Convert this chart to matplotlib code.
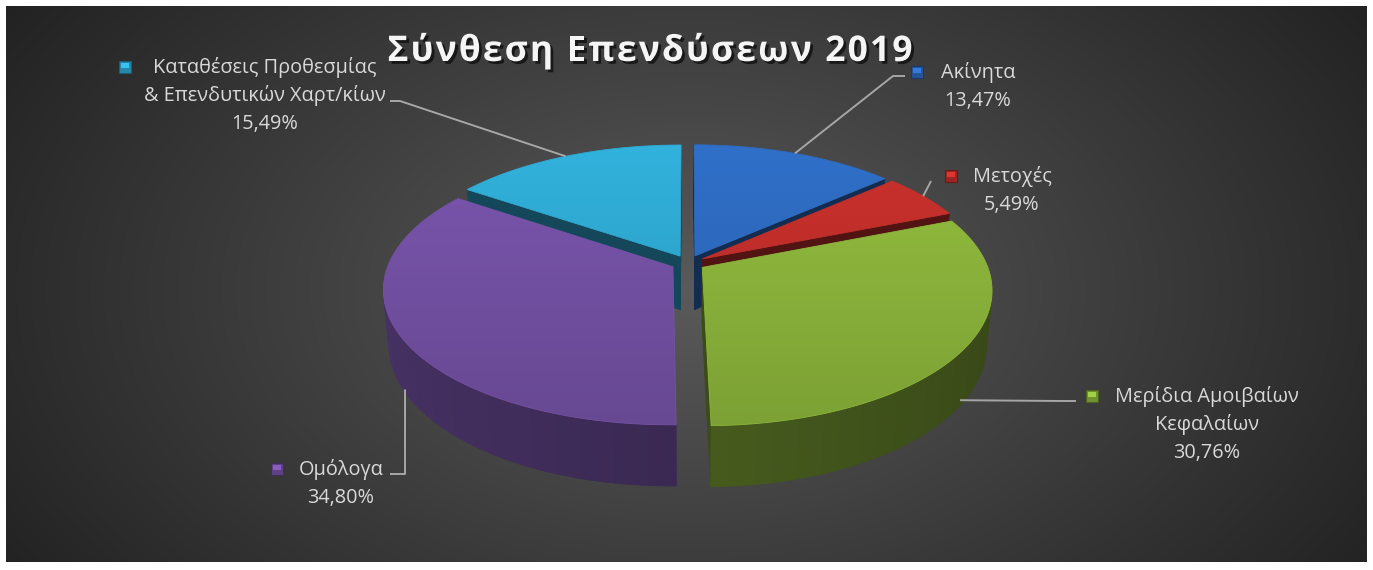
import numpy as np
import matplotlib
matplotlib.use('Agg')
import matplotlib.pyplot as plt
from matplotlib.patches import Polygon, Rectangle
import matplotlib.patheffects as pe
from matplotlib.colors import to_rgb
from matplotlib.font_manager import FontProperties
from matplotlib.textpath import TextToPath

# data
title = 'Σύνθεση Επενδύσεων 2019'
names = ['Ακίνητα', 'Μετοχές', 'Μερίδια Αμοιβαίων\nΚεφαλαίων', 'Ομόλογα',
         'Καταθέσεις Προθεσμίας\n& Επενδυτικών Χαρτ/κίων']
shares = [13.47, 5.49, 30.76, 34.80, 15.49]
colors = ['#2e6bc0', '#c22f2b', '#8db63c', '#7552a6', '#2faad3']

# layout, in pixels of the 1373x570 picture
W, H = 1373, 570
CX, CY = 688, 263       # pie centre on screen
R = 284
PHI = np.radians(27.5)  # tilt of the pie
DIST = 1557             # camera distance (perspective)
DEPTH = 62
EXPLODE = 0.06

label_xy = [(978, 78), (1012, 182), (1207, 402), (341, 475), (265, 73)]
key_gap = [24, 22, 23, 22, 28]
leader_pts = [[(893, 76), (905, 76)],
              [(931, 181)],
              [(1060, 401), (1076, 401)],
              [(405, 474), (390, 474)],
              [(400, 101), (390, 101)]]
anchor_depth = [0, 0, 0.9, 0.95, 0]
TXT = '#d9d9d9'
FONT = 'Open Sans'
LSIZE = 14.3

cphi, sphi = np.cos(PHI), np.sin(PHI)
cam = np.array([0.0, DIST * sphi, -DIST * cphi])


def proj(x, z, y):
    x, z, y = np.asarray(x, float), np.asarray(z, float), np.asarray(y, float)
    v = y * cphi + z * sphi
    d = z * cphi - y * sphi
    s = DIST / (DIST + d)
    return CX + x * s, CY - v * s


def shade(c, k):
    return tuple(np.clip(np.array(to_rgb(c)) * k, 0, 1))


fig = plt.figure(figsize=(W / 100, H / 100), dpi=100, facecolor='white')
ax = fig.add_axes([0, 0, 1, 1])
ax.set_xlim(0, W)
ax.set_ylim(H, 0)
ax.axis('off')

# background radial gradient
px0, py0, px1, py1 = 6, 6, 1367, 562
yy, xx = np.mgrid[py0:py1, px0:px1]
r = np.sqrt(((xx - 690) / 820.0) ** 2 + ((yy - 290) / 520.0) ** 2)
g = (90 - 56 * np.clip(r, 0, 1)) / 255.0
bg = np.dstack([g, g, g])
ax.imshow(bg, extent=(px0, px1, py1, py0), origin='upper', aspect='auto', zorder=0)

# pie geometry
fr = np.array(shares) / sum(shares)
a_end = np.cumsum(fr) * 2 * np.pi
a_start = a_end - fr * 2 * np.pi

faces = []
tops = []
anchors = []
for i in range(len(shares)):
    ts, te = np.pi / 2 - a_start[i], np.pi / 2 - a_end[i]
    tm = (ts + te) / 2
    ox, oz = EXPLODE * R * np.cos(tm), EXPLODE * R * np.sin(tm)

    # outer wall, in small pieces
    n = max(3, int(np.degrees(ts - te) / 1.5))
    th = np.linspace(ts, te, n + 1)
    for t0, t1 in zip(th[:-1], th[1:]):
        tc = (t0 + t1) / 2
        p = np.array([ox + R * np.cos(tc), -DEPTH / 2, oz + R * np.sin(tc)])
        nrm = np.array([np.cos(tc), 0, np.sin(tc)])
        if np.dot(nrm, cam - p) <= 0:
            continue
        xs = ox + R * np.cos([t0, t1, t1, t0])
        zs = oz + R * np.sin([t0, t1, t1, t0])
        X, Y = proj(xs, zs, [0, 0, -DEPTH, -DEPTH])
        k = 0.5 - 0.1 * np.cos(tc)
        faces.append((np.linalg.norm(cam - p), np.column_stack([X, Y]), shade(colors[i], k)))

    # radial walls
    for t, nrm in [(ts, np.array([-np.sin(ts), 0, np.cos(ts)])),
                   (te, np.array([np.sin(te), 0, -np.cos(te)]))]:
        rr = np.linspace(0, R, 9)
        for r0, r1 in zip(rr[:-1], rr[1:]):
            rc = (r0 + r1) / 2
            p = np.array([ox + rc * np.cos(t), -DEPTH / 2, oz + rc * np.sin(t)])
            if np.dot(nrm, cam - p) <= 0:
                continue
            xs = ox + np.array([r0, r1, r1, r0]) * np.cos(t)
            zs = oz + np.array([r0, r1, r1, r0]) * np.sin(t)
            X, Y = proj(xs, zs, [0, 0, -DEPTH, -DEPTH])
            faces.append((np.linalg.norm(cam - p), np.column_stack([X, Y]), shade(colors[i], 0.42)))

    # top face
    tt = np.linspace(ts, te, 200)
    X, Y = proj(np.r_[ox, ox + R * np.cos(tt)], np.r_[oz, oz + R * np.sin(tt)], np.zeros(201))
    tops.append((np.column_stack([X, Y]), colors[i]))

    ax_, ay_ = proj(ox + R * np.cos(tm), oz + R * np.sin(tm), -DEPTH * anchor_depth[i])
    anchors.append((float(ax_), float(ay_)))

faces.sort(key=lambda f: -f[0])
for _, pts, c in faces:
    ax.add_patch(Polygon(pts, closed=True, facecolor=c, edgecolor=c, lw=0.6, zorder=2))

for pts, c in tops:
    patch = Polygon(pts, closed=True, facecolor='none', edgecolor='none', zorder=3)
    ax.add_patch(patch)
    y0, y1 = pts[:, 1].min(), pts[:, 1].max()
    ys = np.linspace(y0, y1, 100)
    f = 1.05 - 0.17 * (ys - 140) / 290
    img = np.clip(np.array(to_rgb(c))[None, None, :] * f[:, None, None], 0, 1)
    im = ax.imshow(img, extent=(pts[:, 0].min(), pts[:, 0].max(), y1, y0),
                   origin='upper', aspect='auto', zorder=3, interpolation='bilinear')
    im.set_clip_path(patch)
    ax.add_patch(Polygon(pts, closed=True, facecolor='none', edgecolor=c, lw=0.6, zorder=3))

ax.set_xlim(0, W)
ax.set_ylim(H, 0)

# leader lines
for i in range(len(shares)):
    pts = [anchors[i]] + leader_pts[i]
    ax.plot([p[0] for p in pts], [p[1] for p in pts], color='#a6a6a6', lw=1.4,
            zorder=4, solid_capstyle='butt')

# labels
first_lines = []
for i, name in enumerate(names):
    pct = f'{shares[i]:.2f}'.replace('.', ',') + '%'
    lines = name.split('\n') + [pct]
    x, y = label_xy[i]
    for j, line in enumerate(lines):
        t = ax.text(x, y + j * 28, line, ha='center', va='baseline', fontsize=LSIZE,
                    color=TXT, family=FONT, zorder=5)
        if j == 0:
            first_lines.append(t)

# title with letter spacing
TSIZE = 25.5
fp = FontProperties(family=FONT, weight='bold', size=TSIZE)
t2p = TextToPath()


def wpx(s):
    return t2p.get_text_width_height_descent(s, fp, ismath=False)[0] * 100 / 72


base = wpx('I')
offs = [0.0] + [wpx(title[:k] + 'I') - base for k in range(1, len(title))]
natural = offs[-1] + wpx(title[-1])
spacing = max(0.0, (525 - natural) / (len(title) - 1))
total = natural + spacing * (len(title) - 1)
tx0 = 650 - total / 2
for k, ch in enumerate(title):
    if ch == ' ':
        continue
    ax.text(tx0 + offs[k] + k * spacing, 61, ch, ha='left', va='baseline',
            fontproperties=fp, color='#f5f5f5', zorder=6,
            path_effects=[pe.withSimplePatchShadow(offset=(2, -2), shadow_rgbFace='black', alpha=0.6)])

# legend keys next to the first line of each label
fig.canvas.draw()
inv = ax.transData.inverted()
for i, t in enumerate(first_lines):
    bb = t.get_window_extent()
    left = inv.transform((bb.x0, bb.y0))[0]
    kx = left - key_gap[i]
    ky = label_xy[i][1] - 6
    ax.add_patch(Rectangle((kx - 6, ky - 6), 12, 12, facecolor=shade(colors[i], 0.8),
                           edgecolor=shade(colors[i], 0.55), lw=0.8, zorder=5))
    ax.add_patch(Rectangle((kx - 4, ky - 4), 8, 5, facecolor=shade(colors[i], 1.15),
                           edgecolor='none', zorder=5))

fig.savefig('out.png', dpi=100, facecolor='white')
